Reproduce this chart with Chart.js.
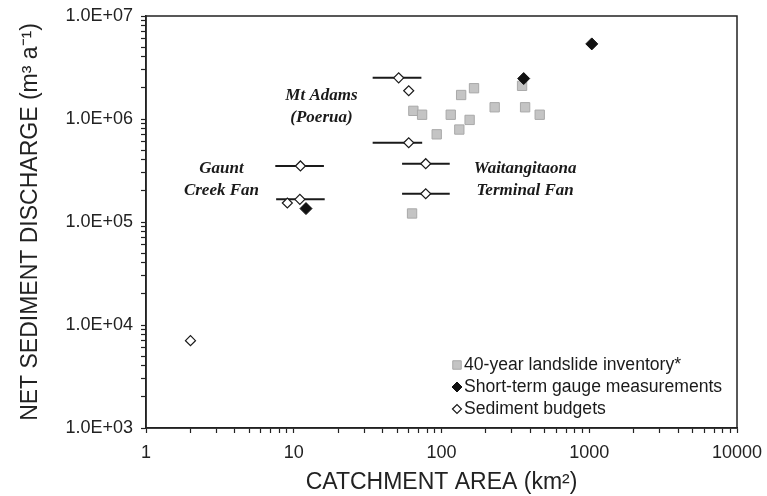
<!DOCTYPE html>
<html>
<head>
<meta charset="utf-8">
<script src="https://cdn.jsdelivr.net/npm/chart.js@4.4.1/dist/chart.umd.min.js"></script>
<style>
  html, body { margin: 0; padding: 0; background: #fff; }
  #wrap { width: 767px; height: 496px; }
</style>
</head>
<body>
<div id="wrap"><canvas id="sedChart" width="767" height="496"></canvas></div>
<script>
// 40-year landslide inventory (grey squares)
const landslideArea = [64.5, 73.9, 92.8, 115.5, 135.8, 166, 132, 155, 229, 351, 368, 462, 63.2];
const landslideQ = [1.20e6, 1.10e6, 7.1e5, 1.10e6, 1.71e6, 1.99e6, 7.9e5, 9.8e5, 1.30e6, 2.10e6, 1.30e6, 1.10e6, 1.21e5];

// short-term gauge measurements (filled diamonds)
const gaugeArea = [12.1, 360, 1040];
const gaugeQ = [1.35e5, 2.47e6, 5.36e6];

// sediment budgets (open diamonds)
const budgetArea = [51.3, 60, 60, 11.1, 11.0, 9.05, 78.2, 78.2, 2.0];
const budgetQ = [2.51e6, 1.88e6, 5.88e5, 3.5e5, 1.66e5, 1.53e5, 3.68e5, 1.88e5, 7.05e3];

// catchment area ranges drawn as horizontal bars
const rangeLow = [34.2, 34.2, 7.5, 7.6, 54.1, 54.1];
const rangeHigh = [73.1, 74.0, 16.0, 16.2, 113.7, 113.7];
const rangeQ = [2.51e6, 5.88e5, 3.5e5, 1.66e5, 3.68e5, 1.88e5];

const xDecades = [1, 10, 100, 1000, 10000];
const yDecades = [1e3, 1e4, 1e5, 1e6, 1e7];
const yTickLabels = ['1.0E+03', '1.0E+04', '1.0E+05', '1.0E+06', '1.0E+07'];

const siteLabels = [
    { lines: ['Mt Adams', '(Poerua)'], x: 15.4, y: 1.67e6 },
    { lines: ['Gaunt', 'Creek Fan'], x: 3.24, y: 3.27e5 },
    { lines: ['Waitangitaona', 'Terminal Fan'], x: 368, y: 3.27e5 }
];

const SANS = '"Liberation Sans", Arial, sans-serif';
const toXY = (xs, ys) => xs.map((x, i) => ({ x, y: ys[i] }));

function logTicks(decades) {
    const ticks = [];
    decades.forEach((d, i) => {
        if (i === decades.length - 1) {
            ticks.push({ value: d, major: true });
            return;
        }
        for (let k = 1; k <= 9; k++) {
            ticks.push({ value: d * k, major: k === 1 });
        }
    });
    return ticks;
}

const rangeSets = rangeQ.map((q, i) => ({
    type: 'line',
    label: '_range' + i,
    data: [{ x: rangeLow[i], y: q }, { x: rangeHigh[i], y: q }],
    borderColor: '#1a1a1a',
    borderWidth: 2,
    pointRadius: 0,
    fill: false
}));

const frameAndText = {
    id: 'frameAndText',
    beforeDatasetsDraw(chart) {
        const { ctx, chartArea: a } = chart;
        ctx.save();
        ctx.strokeStyle = '#222';
        ctx.lineWidth = 1.5;
        ctx.strokeRect(a.left, a.top, a.right - a.left, a.bottom - a.top);
        ctx.restore();
    },
    afterDraw(chart) {
        const { ctx, scales } = chart;
        ctx.save();
        // site names
        ctx.fillStyle = '#1a1a1a';
        ctx.font = 'italic bold 17px "Liberation Serif", "Times New Roman", serif';
        ctx.textAlign = 'center';
        ctx.textBaseline = 'middle';
        siteLabels.forEach(s => {
            const px = scales.x.getPixelForValue(s.x);
            const py = scales.y.getPixelForValue(s.y);
            s.lines.forEach((t, j) => ctx.fillText(t, px, py + j * 22));
        });

        // legend inside the plot
        const items = chart.data.datasets.filter(d => !d.label.startsWith('_')).reverse();
        const lx = 457, ly = 365, gap = 22;
        ctx.font = '17.6px ' + SANS;
        ctx.textAlign = 'left';
        items.forEach((d, i) => {
            const y = ly + i * gap;
            ctx.fillStyle = d.backgroundColor;
            ctx.strokeStyle = d.borderColor;
            ctx.lineWidth = d.borderWidth;
            Chart.helpers.drawPoint(ctx, {
                pointStyle: d.pointStyle,
                radius: d.legendRadius,
                borderWidth: d.borderWidth
            }, lx, y);
            ctx.fillStyle = '#1a1a1a';
            ctx.fillText(d.label, lx + 7, y);
        });
        ctx.restore();
    }
};

const ctx = document.getElementById('sedChart').getContext('2d');
new Chart(ctx, {
    type: 'scatter',
    data: {
        datasets: [
            {
                label: 'Sediment budgets',
                data: toXY(budgetArea, budgetQ),
                pointStyle: 'rectRot',
                pointRadius: 5,
                legendRadius: 4.5,
                backgroundColor: '#ffffff',
                borderColor: '#1a1a1a',
                borderWidth: 1.2
            },
            {
                label: 'Short-term gauge measurements',
                data: toXY(gaugeArea, gaugeQ),
                pointStyle: 'rectRot',
                pointRadius: 6,
                legendRadius: 5,
                backgroundColor: '#111111',
                borderColor: '#111111',
                borderWidth: 1
            },
            {
                label: '40-year landslide inventory*',
                data: toXY(landslideArea, landslideQ),
                pointStyle: 'rect',
                pointRadius: 6.6,
                legendRadius: 6,
                backgroundColor: '#c4c4c4',
                borderColor: '#a9a9a9',
                borderWidth: 1
            },
            ...rangeSets
        ]
    },
    options: {
        responsive: false,
        animation: false,
        layout: { padding: { left: 0, top: 16, right: 30, bottom: 0 } },
        scales: {
            x: {
                type: 'logarithmic',
                min: 1,
                max: 10000,
                afterBuildTicks: scale => { scale.ticks = logTicks(xDecades); },
                afterFit: scale => {
                    scale.height = 68;
                    scale.paddingRight = 0;
                    scale.paddingLeft = 0;
                },
                ticks: {
                    autoSkip: false,
                    maxRotation: 0,
                    padding: 9,
                    color: '#222',
                    font: { family: SANS, size: 18 },
                    callback: v => xDecades.includes(v) ? String(v) : ''
                },
                grid: { drawOnChartArea: false, tickLength: 5, color: '#222', tickWidth: 1.2 },
                border: { color: '#222', width: 1.5 },
                title: {
                    display: true,
                    text: 'CATCHMENT AREA (km²)',
                    color: '#222',
                    font: { family: SANS, size: 23 },
                    padding: { top: 2, bottom: 0 }
                }
            },
            y: {
                type: 'logarithmic',
                min: 1e3,
                max: 1e7,
                afterBuildTicks: scale => { scale.ticks = logTicks(yDecades); },
                afterFit: scale => {
                    scale.width = 146;
                    scale.paddingTop = 0;
                    scale.paddingBottom = 0;
                },
                ticks: {
                    autoSkip: false,
                    padding: 8,
                    color: '#222',
                    font: { family: SANS, size: 18 },
                    callback: v => {
                        const i = yDecades.indexOf(v);
                        return i >= 0 ? yTickLabels[i] : '';
                    }
                },
                grid: { drawOnChartArea: false, tickLength: 5, color: '#222', tickWidth: 1.2 },
                border: { color: '#222', width: 1.5 },
                title: {
                    display: true,
                    text: 'NET SEDIMENT DISCHARGE (m³ a⁻¹)',
                    color: '#222',
                    font: { family: SANS, size: 23 },
                    padding: { top: 17, bottom: 0 }
                }
            }
        },
        plugins: {
            legend: { display: false },
            tooltip: { enabled: false }
        }
    },
    plugins: [frameAndText]
});
</script>
</body>
</html>
